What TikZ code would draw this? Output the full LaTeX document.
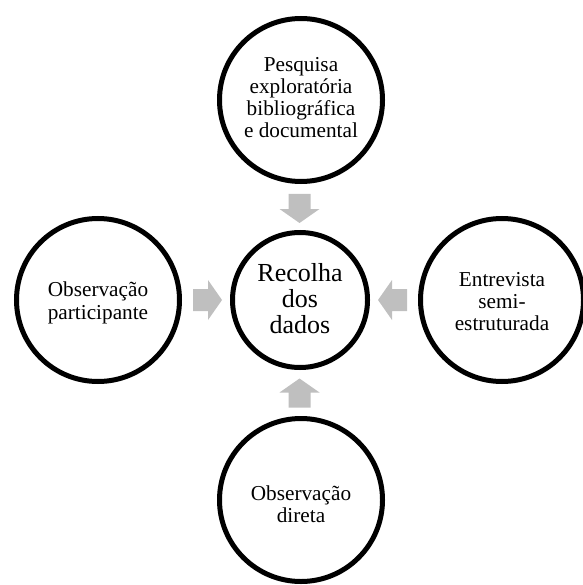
\documentclass[tikz,border=0pt]{standalone}
\usepackage{fontspec}
\setmainfont{Liberation Serif}
\usetikzlibrary{calc}
\definecolor{arrowgray}{RGB}{191,191,191}
\tikzset{
  outercirc/.style={circle, draw=black, line width=5pt, fill=white, minimum size=163pt, inner sep=0pt},
  centercirc/.style={circle, draw=black, line width=5pt, fill=white, minimum size=135pt, inner sep=0pt},
  outertext/.style={align=center, inner sep=0pt, font=\fontsize{21.25}{22.2}\selectfont},
  centertext/.style={align=center, inner sep=0pt, font=\fontsize{26}{26}\selectfont},
  garrow/.pic={\fill[arrowgray] (-14.5,-11) -- (0.5,-11) -- (0.5,-20) -- (14.5,0) -- (0.5,20) -- (0.5,11) -- (-14.5,11) -- cycle;}
}
\begin{document}
\begin{tikzpicture}[x=1pt,y=-1pt]
\useasboundingbox (0,0) rectangle (582,585);
\node[centercirc, label={[name=ctxt, centertext, yshift=1.2pt]center:{Recolha\\dos\\dados}}] (c) at (300,300) {};
\node[outercirc, label={[name=toptxt, outertext, yshift=2.25pt]center:{Pesquisa\\explorat\'oria\\bibliogr\'afica\\e documental}}] (top) at (301,100) {};
\node[outercirc, label={[name=bottxt, outertext, yshift=-3.85pt]center:{Observa\c{c}\~ao\\direta}}] (bot) at (301,500) {};
\node[outercirc, label={[name=lefttxt, outertext, yshift=-2.85pt]center:{Observa\c{c}\~ao\\participante}}] (left) at (98,300) {};
\node[outercirc, label={[name=righttxt, outertext, yshift=-1.65pt]center:{Entrevista\\semi-\\estruturada}}] (right) at (502,300) {};
\pic[rotate=-90] at ($(top.south)!0.5!(c.north)+(-1,1.5)$) {garrow};
\pic[rotate=90] at ($(bot.north)!0.5!(c.south)+(-1,0)$) {garrow};
\pic at ($(left.east)!0.5!(c.west)+(1.5,0)$) {garrow};
\pic[rotate=180] at ($(right.west)!0.5!(c.east)+(-1.5,0)$) {garrow};
\end{tikzpicture}
\end{document}
